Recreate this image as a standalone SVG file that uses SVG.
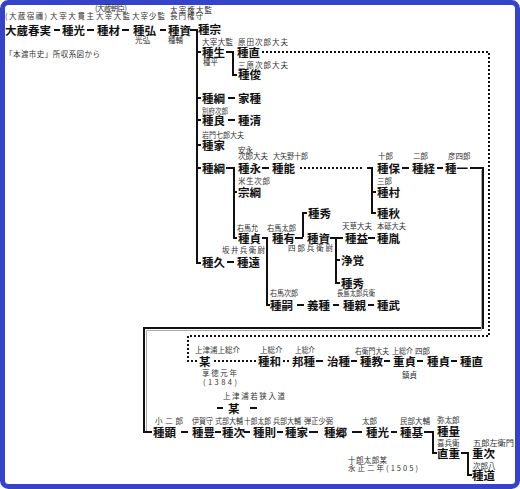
<svg xmlns="http://www.w3.org/2000/svg" width="520" height="489" viewBox="0 0 520 489">
<style>
.n{font-family:"Noto Sans CJK JP","Noto Sans CJK SC",sans-serif;font-size:11.5px;font-weight:700;fill:#111}
.s{font-family:"Noto Sans CJK JP","Noto Sans CJK SC",sans-serif;font-size:7.5px;fill:#333}
.c{stroke:#111;stroke-width:2;fill:none}
.g{stroke:#aaa;stroke-width:1;fill:none}
.d{stroke:#111;stroke-width:2;fill:none;stroke-dasharray:2 2}
</style>
<rect x="2.5" y="2.5" width="515" height="484" rx="6" fill="#fff" stroke="#3543c8" stroke-width="5"/>
<text class="s" x="5" y="56.5" textLength="95">「本渡市史」所収系図から</text>
<g id="connectors">
<path class="c" d="M54 30H60M87 30H94M122 30H129M160 30H166"/>
<path class="c" d="M190 30H197M197 29V263H201M197 52H201M197 98H201M197 120H201M197 145H201M197 168H201"/>
<path class="c" d="M226 52H233V75H237"/>
<path class="d" d="M262 52H489V336H188V361H197"/>
<path class="c" d="M228 98H235M228 120H235"/>
<path class="c" d="M226 168H234V238H237M234 192H237"/>
<path class="c" d="M262 168H269"/>
<path class="d" d="M300 168H362"/>
<path class="c" d="M367 168H372V213H376M372 192H376"/>
<path class="c" d="M402 168H409M437 168H443"/>
<path class="c" d="M470 168H483V328H144V432H152"/>
<path class="g" d="M481.5 170V330.5H146.5V431"/>
<path class="c" d="M262 238H267V305H270"/>
<path class="c" d="M295 238H303M303 237V213H307"/>
<path class="c" d="M330 238H343M336 238V283H340M336 260H340"/>
<path class="c" d="M368 238H375"/>
<path class="c" d="M227 262H234"/>
<path class="c" d="M297 305H304M333 305H339M368 305H374"/>
<path class="d" d="M214 361H256M283 361H291"/>
<path class="c" d="M316 361H323M351 361H357M384 361H390M417 361H423M451 361H457"/>
<path class="c" d="M217 408H223M250 408H257"/>
<path class="c" d="M181 432H188M215 432H221M244 432H250M277 432H283M309 432H318M352 432H362M391 432H397"/>
<path class="c" d="M424 432H433V453H437"/>
<path class="c" d="M461 453H468V475H472"/>
</g>
<g id="n-harumi"><text class="s" x="5" y="19" textLength="42">(大蔵宿禰)</text><text class="n" x="5" y="35">大蔵春実</text></g>
<g id="n-tanemitsu"><text class="s" x="50" y="19" textLength="44">大宰大貫主</text><text class="n" x="62" y="35">種光</text></g>
<g id="n-taneki"><text class="s" x="95" y="11" textLength="32">(大蔵朝臣)</text><text class="s" x="96" y="19" textLength="34">大宰大監</text><text class="n" x="97" y="35">種材</text></g>
<g id="n-tanehiro"><text class="s" x="132" y="19" textLength="33">大宰少監</text><text class="n" x="133" y="35">種弘</text><text class="s" x="135" y="43">光弘</text></g>
<g id="n-tanesuke"><text class="s" x="170" y="13" textLength="42">大宰権大監</text><text class="s" x="170" y="19" textLength="33">長門権守</text><text class="n" x="168" y="35">種資</text><text class="s" x="168" y="43">種輔</text></g>
<g id="n-tanemune"><text class="n" x="198" y="34">種宗</text></g>
<g id="n-taneo"><text class="s" x="202" y="45" textLength="31">大宰大監</text><text class="n" x="202" y="57">種生</text><text class="s" x="203" y="65">種平</text></g>
<g id="n-tanenao1"><text class="s" x="238" y="45" textLength="50">原田次郎大夫</text><text class="n" x="237" y="57">種直</text></g>
<g id="n-tanetoshi"><text class="s" x="238" y="68" textLength="50">三原次郎大夫</text><text class="n" x="238" y="79">種俊</text></g>
<g id="n-tanetsuna1"><text class="n" x="202" y="103">種綱</text></g>
<g id="n-ietane"><text class="n" x="238" y="103">家種</text></g>
<g id="n-taneyoshi"><text class="s" x="202" y="114" textLength="26" lengthAdjust="spacingAndGlyphs">別府次郎</text><text class="n" x="202" y="125">種良</text></g>
<g id="n-tanekiyo"><text class="n" x="238" y="125">種清</text></g>
<g id="n-taneie"><text class="s" x="202" y="138" textLength="42" lengthAdjust="spacingAndGlyphs">岩門七郎大夫</text><text class="n" x="202" y="150">種家</text></g>
<g id="n-tanetsuna2"><text class="n" x="202" y="173">種綱</text></g>
<g id="n-tanenaga"><text class="s" x="238" y="153">安永</text><text class="s" x="238" y="159">次郎大夫</text><text class="n" x="238" y="173">種永</text></g>
<g id="n-tanetaka"><text class="s" x="273" y="159" textLength="35" lengthAdjust="spacingAndGlyphs">大矢野十郎</text><text class="n" x="272" y="173">種能</text></g>
<g id="n-munetsuna"><text class="s" x="238" y="184" textLength="32">米生次郎</text><text class="n" x="238" y="197">宗綱</text></g>
<g id="n-tanesada1"><text class="s" x="237" y="231" textLength="21" lengthAdjust="spacingAndGlyphs">右馬允</text><text class="n" x="238" y="243">種貞</text></g>
<g id="n-tanearu"><text class="s" x="267" y="231" textLength="29" lengthAdjust="spacingAndGlyphs">右馬太郎</text><text class="n" x="272" y="243">種有</text></g>
<g id="n-tanehide1"><text class="n" x="308" y="218">種秀</text></g>
<g id="n-tanesuke2"><text class="n" x="307" y="243">種資</text><text class="s" x="288" y="251" textLength="45">四郎兵衛尉</text></g>
<g id="n-tanemasu"><text class="s" x="342" y="229">天草大夫</text><text class="n" x="345" y="243">種益</text></g>
<g id="n-tanetane"><text class="s" x="377" y="229" textLength="29" lengthAdjust="spacingAndGlyphs">本砥大夫</text><text class="n" x="377" y="243">種胤</text></g>
<g id="n-jokaku"><text class="n" x="341" y="265">浄覚</text></g>
<g id="n-tanehide2"><text class="n" x="341" y="288">種秀</text></g>
<g id="n-tanehisa"><text class="n" x="202" y="267">種久</text></g>
<g id="n-tanetoo"><text class="s" x="222" y="253" textLength="43">坂井兵衛尉</text><text class="n" x="237" y="267">種遠</text></g>
<g id="n-tanetsugu"><text class="s" x="270" y="296" textLength="28" lengthAdjust="spacingAndGlyphs">右馬次郎</text><text class="n" x="270" y="310">種嗣</text></g>
<g id="n-yoshitane"><text class="n" x="307" y="310">義種</text></g>
<g id="n-tanechika"><text class="s" x="337" y="296" textLength="38" lengthAdjust="spacingAndGlyphs">長島太郎兵衛</text><text class="n" x="343" y="310">種親</text></g>
<g id="n-tanetake"><text class="n" x="377" y="310">種武</text></g>
<g id="n-taneyasu"><text class="s" x="378" y="159">十郎</text><text class="n" x="377" y="173">種保</text></g>
<g id="n-tanetsune"><text class="s" x="413" y="159">二郎</text><text class="n" x="412" y="173">種経</text></g>
<g id="n-taneichi"><text class="s" x="448" y="159">彦四郎</text><text class="n" x="445" y="173">種一</text></g>
<g id="n-tanemura"><text class="s" x="377" y="184">三郎</text><text class="n" x="377" y="197">種村</text></g>
<g id="n-taneaki"><text class="n" x="377" y="218">種秋</text></g>
<g id="n-bou1"><text class="s" x="195" y="353">上津浦上総介</text><text class="n" x="199" y="366">某</text><text class="s" x="202" y="376" textLength="35">享徳元年</text><text class="s" x="203" y="385" textLength="34">(1384)</text></g>
<g id="n-tanekazu"><text class="s" x="260" y="353">上総介</text><text class="n" x="258" y="366">種和</text></g>
<g id="n-kunitane"><text class="s" x="295" y="353" textLength="20" lengthAdjust="spacingAndGlyphs">上総介</text><text class="n" x="292" y="366">邦種</text></g>
<g id="n-haritane"><text class="n" x="327" y="366">治種</text></g>
<g id="n-tanenori"><text class="s" x="355" y="354" textLength="34" lengthAdjust="spacingAndGlyphs">右衛門大夫</text><text class="n" x="360" y="366">種教</text></g>
<g id="n-shigesada"><text class="s" x="392" y="354" textLength="21" lengthAdjust="spacingAndGlyphs">上総介</text><text class="n" x="393" y="366">重貞</text><text class="s" x="402" y="378">鎮貞</text></g>
<g id="n-tanesada2"><text class="s" x="415" y="354">四郎</text><text class="n" x="427" y="366">種貞</text></g>
<g id="n-tanenao2"><text class="n" x="460" y="366">種直</text></g>
<g id="n-bou2"><text class="s" x="223" y="399" textLength="62">上津浦若狭入道</text><text class="n" x="228" y="413">某</text></g>
<g id="n-taneaki2"><text class="s" x="155" y="424" textLength="28">小二郎</text><text class="n" x="153" y="437">種顕</text></g>
<g id="n-tanetoyo"><text class="s" x="192" y="424" textLength="21" lengthAdjust="spacingAndGlyphs">伊賀守</text><text class="n" x="192" y="437">種豊</text></g>
<g id="n-tanetsugu2"><text class="s" x="215" y="424" textLength="28" lengthAdjust="spacingAndGlyphs">式部大輔</text><text class="n" x="222" y="437">種次</text></g>
<g id="n-tanenori2"><text class="s" x="244" y="424" textLength="27" lengthAdjust="spacingAndGlyphs">十郎太郎</text><text class="n" x="253" y="437">種則</text></g>
<g id="n-taneie2"><text class="s" x="273" y="424" textLength="28" lengthAdjust="spacingAndGlyphs">兵部大輔</text><text class="n" x="285" y="437">種家</text></g>
<g id="n-tanesato"><text class="s" x="304" y="424" textLength="29" lengthAdjust="spacingAndGlyphs">弾正少弼</text><text class="n" x="324" y="437">種郷</text></g>
<g id="n-tanemitsu2"><text class="s" x="362" y="424">太郎</text><text class="n" x="366" y="437">種光</text></g>
<g id="n-tanemoto"><text class="s" x="400" y="424">民部大輔</text><text class="n" x="400" y="437">種基</text></g>
<g id="n-tanekazu2"><text class="s" x="437" y="423">弥太郎</text><text class="n" x="437" y="436">種量</text></g>
<g id="n-naoshige"><text class="s" x="437" y="446">喜兵衛</text><text class="n" x="437" y="458">直重</text></g>
<g id="n-shigetsugu"><text class="s" x="473" y="446" textLength="41" lengthAdjust="spacingAndGlyphs">五郎左衛門</text><text class="n" x="472" y="458">重次</text></g>
<g id="n-tanemichi"><text class="s" x="473" y="469">次郎八</text><text class="n" x="472" y="480">種道</text></g>
<g id="n-note"><text class="s" x="348" y="463" textLength="39">十郎太郎某</text><text class="s" x="348" y="471" textLength="70">永正二年(1505)</text></g>
</svg>
